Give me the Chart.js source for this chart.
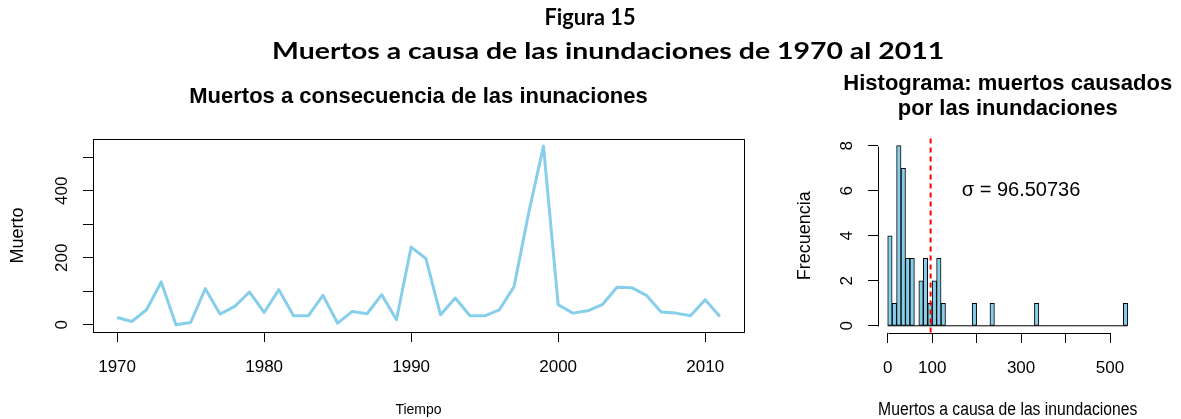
<!DOCTYPE html>
<html><head><meta charset="utf-8">
<script src="https://cdn.jsdelivr.net/npm/chart.js@4"></script>
<style>
html,body{margin:0;padding:0;background:#fff;width:1181px;height:419px;overflow:hidden}
#wrap{position:relative;width:1181px;height:419px}
.hd{position:absolute;white-space:nowrap;font-family:Lato,"Open Sans",sans-serif;font-weight:bold;font-size:22px;line-height:26px;color:#000;transform-origin:center center}
#c1box{position:absolute;left:0;top:0;width:790px;height:419px}
#c2box{position:absolute;left:790px;top:0;width:391px;height:419px}
</style></head><body>
<div id="wrap">
<div id="c1box"><canvas id="c1"></canvas></div>
<div id="c2box"><canvas id="c2"></canvas></div>
<div class="hd" id="h1">Figura 15</div>
<div class="hd" id="h2">Muertos a causa de las inundaciones de 1970 al 2011</div>
</div>
<script>
// ---- data ----
const years = [1970,1971,1972,1973,1974,1975,1976,1977,1978,1979,1980,1981,1982,1983,1984,1985,1986,1987,1988,1989,1990,
               1991,1992,1993,1994,1995,1996,1997,1998,1999,2000,2001,2002,2003,2004,2005,2006,2007,2008,2009,2010,2011];
const deaths = [22,10,45,128,0,7,108,32,55,98,37,105,27,27,88,5,40,33,90,15,232,
                198,30,80,27,27,45,114,335,533,60,35,42,60,112,111,88,38,35,27,75,25];
const yearTicks = [1970,1980,1990,2000,2010];
const deathTicks = [0,100,200,300,400,500];
const deathTickLabels = ['0','','200','','400',''];

const histBreaks = [0,10,20,30,40,50,60,70,80,90,100,110,120,130,140,150,160,170,180,190,200,210,220,230,240,250,260,270,
                    280,290,300,310,320,330,340,350,360,370,380,390,400,410,420,430,440,450,460,470,480,490,500,510,520,530,540];
const histCounts = [4,1,8,7,3,3,0,2,3,1,2,3,1,0,0,0,0,0,0,1,0,0,0,1,0,0,0,0,0,0,0,0,0,1,0,0,0,0,0,0,0,0,0,0,0,0,0,0,0,0,0,0,0,1];
const freqTicks = [0,2,4,6,8];
const freqTickLabels = ['0','2','4','6','8'];
const histXTicks = [0,100,200,300,400,500];
const histXTickLabels = ['0','100','','300','','500'];
const histTitle = ['Histograma: muertos causados', 'por las inundaciones'];
const SIGMA = 96.50736;
const sigmaLabel = 'σ = 96.50736';
const sigmaLabelPos = [300, 6];

// ---- style ----
const FONT = "'Liberation Sans', Arial, sans-serif";
Chart.defaults.font.family = FONT;
Chart.defaults.color = '#000';
const SKY = '#87CEEB';

function rExt(a, b){ const d = (b - a) * 0.04; return [a - d, b + d]; }

const boxPlugin = {
  id: 'box',
  afterDraw(chart){
    const {ctx, chartArea: a} = chart;
    ctx.save(); ctx.strokeStyle = '#000'; ctx.lineWidth = 1;
    ctx.strokeRect(Math.round(a.left)+0.5, Math.round(a.top)+0.5, Math.round(a.right-a.left), Math.round(a.bottom-a.top));
    ctx.restore();
  }
};

const histDecor = {
  id: 'histDecor',
  afterDraw(chart){
    const {ctx, chartArea: a, scales: {x, y}} = chart;
    ctx.save();
    // axis lines spanning tick range (R style)
    ctx.strokeStyle = '#000'; ctx.lineWidth = 1;
    const by = Math.round(a.bottom) + 0.5, lx = Math.round(a.left) + 0.5;
    ctx.beginPath();
    ctx.moveTo(Math.round(x.getPixelForValue(histXTicks[0]))+0.5, by);
    ctx.lineTo(Math.round(x.getPixelForValue(histXTicks[histXTicks.length-1]))+0.5, by);
    ctx.moveTo(lx, Math.round(y.getPixelForValue(freqTicks[0]))+0.5);
    ctx.lineTo(lx, Math.round(y.getPixelForValue(freqTicks[freqTicks.length-1]))+0.5);
    ctx.stroke();
    // sigma dashed line
    const sx = x.getPixelForValue(SIGMA);
    ctx.strokeStyle = '#FF0000'; ctx.lineWidth = 2; ctx.setLineDash([5,4]);
    ctx.beginPath(); ctx.moveTo(sx, a.top); ctx.lineTo(sx, a.bottom); ctx.stroke();
    ctx.setLineDash([]);
    // sigma label
    ctx.fillStyle = '#000'; ctx.font = '20px ' + FONT; ctx.textAlign = 'center'; ctx.textBaseline = 'middle';
    ctx.fillText(sigmaLabel, x.getPixelForValue(sigmaLabelPos[0]), y.getPixelForValue(sigmaLabelPos[1]));
    // two-line main title, centred over the plot region (may overflow it, as in R)
    ctx.font = 'bold 22px ' + FONT;
    const cx = (a.left + a.right) / 2;
    ctx.fillText(histTitle[0], cx, a.top - 54.5);
    ctx.fillText(histTitle[1], cx, a.top - 29.5);
    ctx.restore();
  }
};

const tickGrid = {drawOnChartArea:false, drawTicks:true, tickLength:10, color:'#000', tickColor:'#000', lineWidth:1};

// ---- left: time series ----
const [x1min, x1max] = rExt(Math.min(...years), Math.max(...years));
const [y1min, y1max] = rExt(Math.min(...deaths), Math.max(...deaths));
new Chart(document.getElementById('c1'), {
  type: 'line',
  data: { datasets: [{ data: years.map((yr,i)=>({x:yr, y:deaths[i]})), borderColor: SKY, borderWidth: 3,
           pointRadius: 0, tension: 0, fill: false, borderJoinStyle: 'round' }] },
  options: {
    responsive: true, maintainAspectRatio: false, animation: false,
    layout: { padding: { left: 0, right: 46, top: 83.8, bottom: 0 } },
    plugins: {
      legend: { display: false }, tooltip: { enabled: false },
      title: { display: true, fullSize: false, text: 'Muertos a consecuencia de las inunaciones', color: '#000',
               font: { size: 22, weight: 'bold', lineHeight: 1.2 }, padding: { top: 0, bottom: 28.8 } }
    },
    scales: {
      x: { type: 'linear', min: x1min, max: x1max,
           afterBuildTicks: s => { s.ticks = yearTicks.map(v => ({value: v})); },
           afterFit: s => { s.height = 87; },
           ticks: { font: { size: 17 }, color: '#000', padding: 15, maxRotation: 0, autoSkip: false,
                    callback: v => String(v) },
           grid: tickGrid, border: { display: false },
           title: { display: true, text: 'Tiempo', color: '#000', font: { size: 14, lineHeight: 1 }, padding: { top: 0, bottom: 2 } } },
      y: { type: 'linear', min: y1min, max: y1max,
           afterBuildTicks: s => { s.ticks = deathTicks.map(v => ({value: v})); },
           afterFit: s => { s.width = 93; },
           ticks: { font: { size: 17 }, color: '#000', padding: 7, minRotation: 90, maxRotation: 90, crossAlign: 'center', autoSkip: false,
                    callback: v => deathTickLabels[deathTicks.indexOf(v)] },
           grid: tickGrid, border: { display: false },
           title: { display: true, text: 'Muerto', color: '#000', font: { size: 18, lineHeight: 1.2 }, padding: { top: 7.5, bottom: 0 } } }
    }
  },
  plugins: [boxPlugin]
});

// ---- right: histogram ----
const mids = histCounts.map((c,i) => (histBreaks[i] + histBreaks[i+1]) / 2);
const [x2min, x2max] = rExt(histBreaks[0], histBreaks[histBreaks.length-1]);
const [y2min, y2max] = rExt(0, Math.max(...histCounts));
new Chart(document.getElementById('c2'), {
  type: 'bar',
  data: { datasets: [
    { type: 'bar', data: mids.map((m,i) => ({x: m, y: histCounts[i]})), backgroundColor: SKY, borderColor: '#000',
      borderWidth: 1, borderSkipped: false, barPercentage: 1, categoryPercentage: 1, order: 2 },
    { type: 'line', data: [{x: histBreaks[0], y: 0}, {x: histBreaks[histBreaks.length-1], y: 0}], borderColor: '#000',
      borderWidth: 1, pointRadius: 0, fill: false, order: 1 }
  ] },
  options: {
    responsive: true, maintainAspectRatio: false, animation: false,
    layout: { padding: { left: 0, right: 43.6, top: 138.5, bottom: 0 } },
    plugins: { legend: { display: false }, tooltip: { enabled: false }, title: { display: false } },
    scales: {
      x: { type: 'linear', min: x2min, max: x2max, offset: false,
           afterBuildTicks: s => { s.ticks = histXTicks.map(v => ({value: v})); },
           afterFit: s => { s.height = 86; },
           ticks: { font: { size: 17 }, color: '#000', padding: 15, maxRotation: 0, autoSkip: false,
                    callback: v => histXTickLabels[histXTicks.indexOf(v)] },
           grid: Object.assign({}, tickGrid, { offset: false }), border: { display: false },
           title: { display: true, text: 'Muertos a causa de las inundaciones', color: '#000', font: { size: 18, lineHeight: 1 }, padding: { top: 0, bottom: 0 } } },
      y: { type: 'linear', min: y2min, max: y2max,
           afterBuildTicks: s => { s.ticks = freqTicks.map(v => ({value: v})); },
           afterFit: s => { s.width = 88.1; },
           ticks: { font: { size: 17 }, color: '#000', padding: 16, minRotation: 90, maxRotation: 90, crossAlign: 'center', autoSkip: false,
                    callback: v => freqTickLabels[freqTicks.indexOf(v)] },
           grid: tickGrid, border: { display: false },
           title: { display: true, text: 'Frecuencia', color: '#000', font: { size: 18, lineHeight: 1.2 }, padding: { top: 4.2, bottom: 0 } } }
    }
  },
  plugins: [histDecor]
});

// ---- header text fitting ----
function place(id, cx, cy, w){
  const el = document.getElementById(id);
  el.style.left = '0px'; el.style.top = '0px';
  const r = el.getBoundingClientRect();
  el.style.left = (cx - r.width/2) + 'px';
  el.style.top = (cy - r.height/2) + 'px';
  el.style.transform = 'scaleX(' + (w / r.width) + ')';
}
place('h1', 590, 17, 91);
place('h2', 608, 51, 672);
</script>
</body></html>
